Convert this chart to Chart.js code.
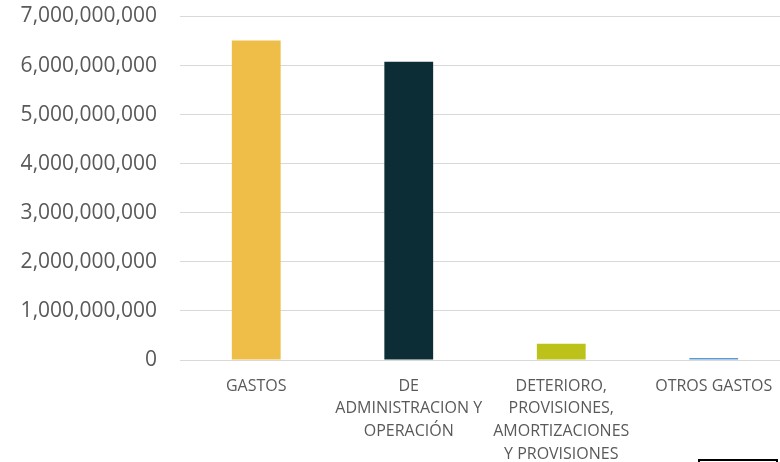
<!DOCTYPE html>
<html>
<head>
<meta charset="utf-8">
<script src="https://cdn.jsdelivr.net/npm/chart.js@4/dist/chart.umd.min.js"></script>
<style>
  html, body { margin: 0; padding: 0; background: #fff; overflow: hidden; }
  #wrap { position: relative; width: 790px; height: 462px; }
  #mark { position: absolute; left: 698px; top: 459px; width: 76px; height: 6px; border: 2px solid #000; }
</style>
</head>
<body>
<div id="wrap">
  <canvas id="gastosChart" width="790" height="462"></canvas>
  <div id="mark"></div>
</div>
<script>
// Categories (wrapped as in the original)
const categories = [
  ["GASTOS"],
  ["DE", "ADMINISTRACION Y", "OPERACIÓN"],
  ["DETERIORO,", "PROVISIONES,", "AMORTIZACIONES", "Y PROVISIONES"],
  ["OTROS GASTOS"],
];

// Values
const values = [6510000000, 6080000000, 330000000, 40000000];

const barColors = ["#EEBE48", "#0C2D35", "#BDC21B", "#5B9BD5"];

// y axis ticks
const yMin = 0;
const yMax = 7000000000;
const yStep = 1000000000;

document.addEventListener("DOMContentLoaded", function () {
  const ctx = document.getElementById("gastosChart");
  new Chart(ctx, {
    type: "bar",
    data: {
      labels: categories,
      datasets: [
        {
          data: values,
          backgroundColor: barColors,
          borderWidth: 0,
          categoryPercentage: 1,
          barPercentage: 0.32,
        },
      ],
    },
    options: {
      responsive: false,
      animation: false,
      layout: { padding: 0 },
      plugins: {
        legend: { display: false },
        tooltip: { enabled: false },
      },
      scales: {
        x: {
          grid: { display: false, drawTicks: false },
          border: { display: false },
          ticks: {
            color: "#595959",
            font: { family: "Open Sans", size: 16, lineHeight: 1.41 },
            padding: 15,
            maxRotation: 0,
            autoSkip: false,
          },
          afterFit: (scale) => {
            scale.height = 102;
          },
        },
        y: {
          min: yMin,
          max: yMax,
          grid: { color: "#d9d9d9", lineWidth: 1, drawTicks: false },
          border: { display: false },
          ticks: {
            stepSize: yStep,
            color: "#595959",
            font: { family: "Open Sans", size: 21 },
            padding: 23,
            callback: (v) => v.toLocaleString("en-US"),
          },
          afterFit: (scale) => {
            scale.width = 180;
            // keep the top gridline close to the top edge
            scale.paddingTop = 16.5;
            scale.paddingBottom = 12;
          },
        },
      },
    },
  });
});
</script>
</body>
</html>
